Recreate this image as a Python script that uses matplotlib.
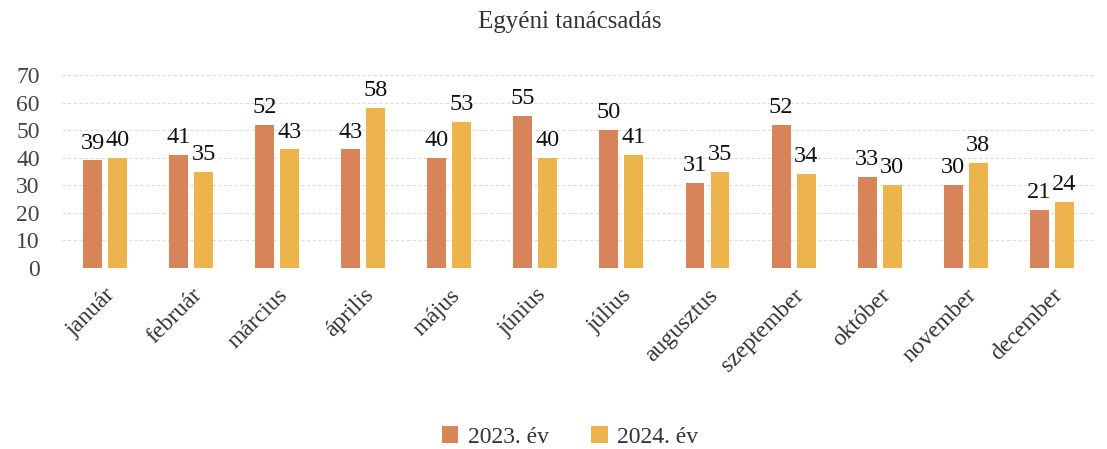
import matplotlib
matplotlib.use("Agg")
import matplotlib.pyplot as plt
import numpy as np

months = ["január", "február", "március", "április", "május", "június",
          "július", "augusztus", "szeptember", "október", "november", "december"]
y2023 = [39, 41, 52, 43, 40, 55, 50, 31, 52, 33, 30, 21]
y2024 = [40, 35, 43, 58, 53, 40, 41, 35, 34, 30, 38, 24]
series_names = ["2023. év", "2024. év"]
title = "Egyéni tanácsadás"

plt.rcParams['font.family'] = ['Liberation Serif', 'DejaVu Serif']
c1 = "#D8845A"
c2 = "#EDB34C"

fig = plt.figure(figsize=(11.07, 4.49), dpi=100)
ax = fig.add_axes([0.056, 0.403, 0.933, 0.43])
x = np.arange(len(months))
w = 0.22
off = 0.145
b1 = ax.bar(x - off, y2023, w, color=c1, label=series_names[0], zorder=3)
b2 = ax.bar(x + off, y2024, w, color=c2, label=series_names[1], zorder=3)
for bars in (b1, b2):
    for r in bars:
        ax.annotate(f"{int(r.get_height())}", (r.get_x() + r.get_width() / 2, r.get_height()),
                    xytext=(0, 5), textcoords="offset points", ha="center", va="bottom",
                    fontsize=17.5, color="#111111")
ax.set_ylim(0, 70)
ax.set_xlim(-0.5, 11.5)
ax.set_yticks(range(0, 71, 10))
ax.yaxis.grid(True, color="#dddddd", linestyle=(0, (3, 2)), linewidth=0.8, zorder=0)
for s in ax.spines.values():
    s.set_visible(False)
ax.tick_params(axis="both", length=0, labelsize=17, colors="#444444")
ax.tick_params(axis="y", pad=16)
ax.tick_params(axis="x", pad=12)
ax.set_xticks(x)
ax.set_xticklabels(months, rotation=45, ha="right", rotation_mode="anchor", fontsize=17, color="#333333")
fig.text(0.515, 0.95, title, ha="center", va="center", fontsize=18, color="#333333")
fig.legend(loc="center", bbox_to_anchor=(0.515, 0.027), ncol=2, frameon=False, fontsize=17,
           handlelength=0.7, handleheight=0.7, handletextpad=0.4, columnspacing=1.8,
           labelcolor="#333333")
fig.savefig("out.png", dpi=100, facecolor="white")
